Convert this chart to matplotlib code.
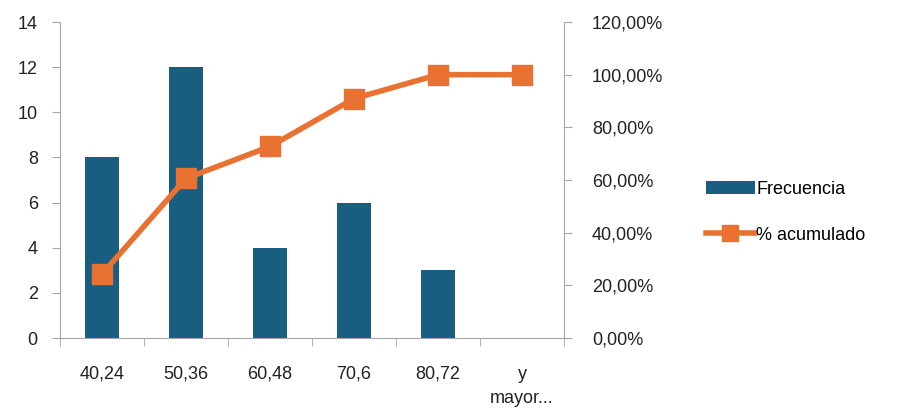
import matplotlib.pyplot as plt
from matplotlib.ticker import FuncFormatter, FixedLocator

# Data
categories = ["40,24", "50,36", "60,48", "70,6", "80,72", "y\nmayor..."]
frecuencia = [8, 12, 4, 6, 3, 0]
acumulado = [24.24, 60.61, 72.73, 90.91, 100.0, 100.0]

bar_color = "#175E81"
line_color = "#E97132"
axis_color = "#A6A6A6"

plt.rcParams["font.family"] = ["Liberation Sans", "DejaVu Sans"]
plt.rcParams["font.size"] = 13

fig = plt.figure(figsize=(8.98, 4.12), dpi=100)
ax = fig.add_axes([0.0668, 0.1796, 0.5613, 0.767])

x = list(range(len(categories)))
ax.bar(x, frecuencia, width=0.4, color=bar_color, label="Frecuencia", zorder=2)
ax.set_xlim(-0.5, len(categories) - 0.5)
ax.set_ylim(0, 14)
ax.set_yticks(range(0, 15, 2))

ax.set_xticks(x)
ax.set_xticklabels(categories, color="#222222", linespacing=1.55)
ax.xaxis.set_minor_locator(FixedLocator([i - 0.5 for i in range(len(categories) + 1)]))
ax.tick_params(axis="x", which="major", length=0, pad=20)
ax.tick_params(axis="x", which="minor", length=6, color=axis_color)
ax.tick_params(axis="y", length=6, color=axis_color, labelcolor="#222222", pad=10)

for side in ["top", "right"]:
    ax.spines[side].set_visible(False)
for side in ["left", "bottom"]:
    ax.spines[side].set_color(axis_color)

ax2 = ax.twinx()
ax2.plot(x, acumulado, color=line_color, linewidth=4, marker="s", markersize=14,
         label="% acumulado", zorder=3)
ax2.set_ylim(0, 120)
ax2.set_yticks(range(0, 121, 20))
ax2.yaxis.set_major_formatter(FuncFormatter(lambda v, p: f"{v:.2f}%".replace(".", ",")))
ax2.tick_params(axis="y", length=6, color=axis_color, labelcolor="#222222", pad=14)
for side in ["top", "left", "bottom"]:
    ax2.spines[side].set_visible(False)
ax2.spines["right"].set_color(axis_color)

h1, l1 = ax.get_legend_handles_labels()
h2, l2 = ax2.get_legend_handles_labels()
fig.legend(h1 + h2, l1 + l2, loc="center left", bbox_to_anchor=(0.768, 0.485),
           frameon=False, handlelength=2.7, handletextpad=0.1, labelspacing=1.6,
           fontsize=13, markerscale=0.8)

fig.savefig("out.png", dpi=100)
